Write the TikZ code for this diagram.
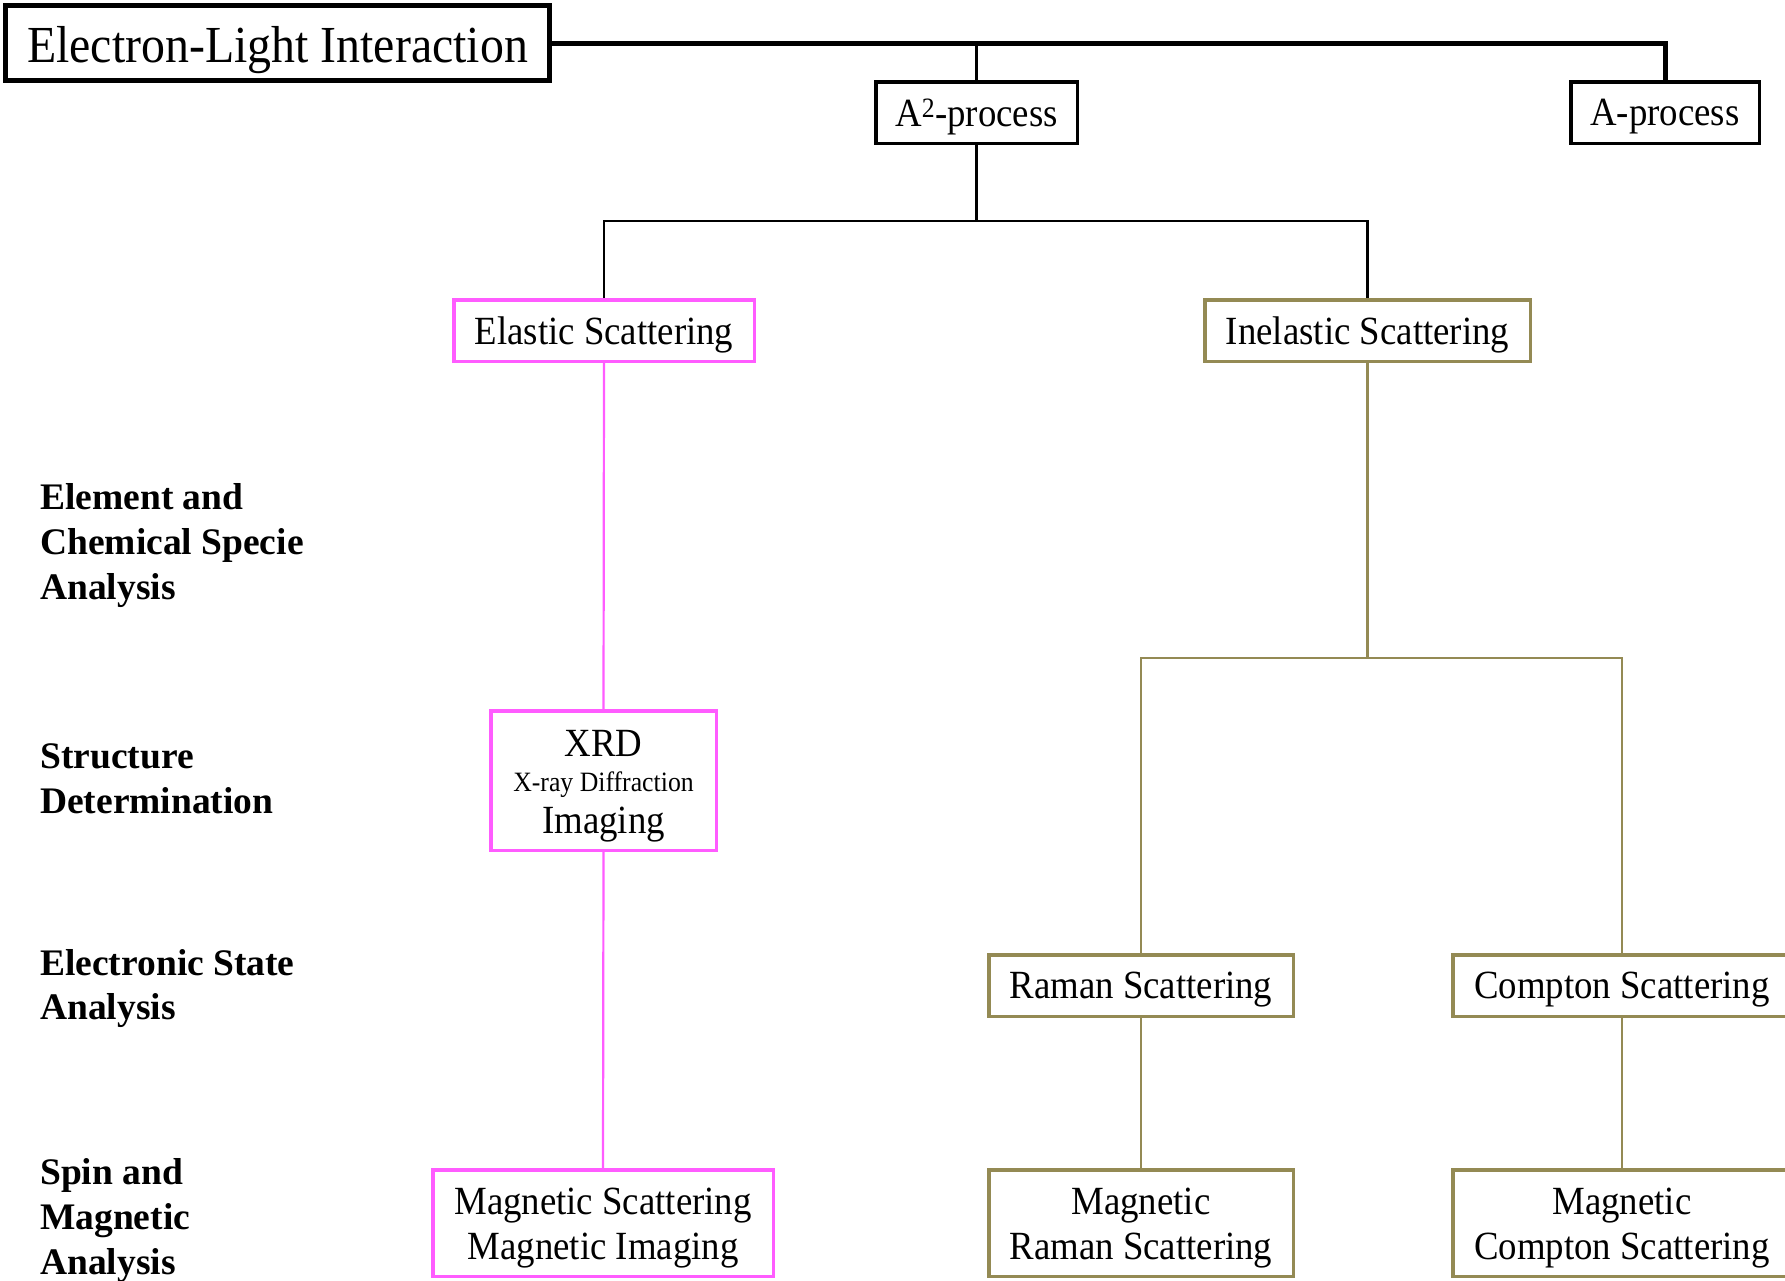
\documentclass[tikz,border=0pt]{standalone}
\usepackage{fontspec}
\setmainfont{Liberation Serif}[FakeStretch=0.92]
\newfontfamily\lbfam{Liberation Serif}
\definecolor{pinkc}{HTML}{FF5CFF}
\definecolor{olivec}{HTML}{948A54}
\newcommand\bxfont{\fontsize{40}{45}\selectfont}
\newcommand\lbfont{\lbfam\fontsize{37.5}{44.6}\selectfont\bfseries}
\newcommand\ttlfont{\fontsize{52}{60}\selectfont}
\newcommand\smfont{\fontsize{28}{32}\selectfont}
\begin{document}
\begin{tikzpicture}[x=1pt,y=-1pt,
  boxbase/.style={draw, rectangle, inner sep=0pt, fill=white},
  blackbox/.style={boxbase, line width=3.5pt},
  pinkbox/.style={boxbase, draw=pinkc, line width=3.5pt},
  olivebox/.style={boxbase, draw=olivec, line width=3.5pt},
  txt/.style={font=\bxfont, inner sep=0pt, align=center},
  lab/.style={anchor=west, align=left, font=\lbfont, inner sep=0pt},
  thinblack/.style={line width=2.2pt},
  thickblack/.style={line width=5pt},
  pinkline/.style={draw=pinkc, line width=2.2pt},
  oliveline/.style={draw=olivec, line width=2.6pt}]
\path[use as bounding box] (0,0) rectangle (1785,1280);
\clip (0,0) rectangle (1785,1280);
\fill[white] (0,0) rectangle (1785,1280);

% boxes
\node[boxbase, line width=5pt, minimum width=544, minimum height=75] (title) at (277.5,43) {};
\node[blackbox, minimum width=201.5, minimum height=61.5] (a2) at (976.5,112.5) {};
\node[blackbox, minimum width=188.5, minimum height=61.5] (a1) at (1665,112.5) {};
\node[pinkbox, minimum width=300.5, minimum height=61.5] (elastic) at (604,330.5) {};
\node[olivebox, minimum width=325.5, minimum height=61.5] (inelastic) at (1367.5,330.5) {};
\node[pinkbox, minimum width=225.5, minimum height=139.5] (xrd) at (603.5,780.5) {};
\node[pinkbox, minimum width=340.5, minimum height=106.5] (magscat) at (603,1223) {};
\node[olivebox, minimum width=304.5, minimum height=61.5] (raman) at (1141,985.5) {};
\node[olivebox, minimum width=338.5, minimum height=61.5] (compton) at (1622,985.5) {};
\node[olivebox, minimum width=304.5, minimum height=106.5] (magraman) at (1141,1223) {};
\node[olivebox, minimum width=338.5, minimum height=106.5] (magcompton) at (1622,1223) {};

% box texts
\node[txt, font=\ttlfont] (titleT) at (277.5,50) {Electron-Light Interaction};
\node[txt] (a2T) at (976.5,117) {A\textsuperscript{2}-process};
\node[txt] (a1T) at (1665,117) {A-process};
\node[txt] (elasticT) at (604,335) {Elastic Scattering};
\node[txt] (inelasticT) at (1367.5,335) {Inelastic Scattering};
\node[txt] (xrdA) at (603.5,743) {XRD};
\node[txt, font=\smfont] (xrdB) at (603.5,784.5) {X-ray Diffraction};
\node[txt] (xrdC) at (603.5,825) {Imaging};
\node[txt] (magscatT) at (603,1228.5) {Magnetic Scattering\\Magnetic Imaging};
\node[txt] (ramanT) at (1141,990) {Raman Scattering};
\node[txt] (comptonT) at (1622,990) {Compton Scattering};
\node[txt] (magramanT) at (1141,1228.5) {Magnetic\\Raman Scattering};
\node[txt] (magcomptonT) at (1622,1228.5) {Magnetic\\Compton Scattering};

% left labels
\node[lab] (l1) at (40,545.5) {Element and\\Chemical Specie\\Analysis};
\node[lab] (l2) at (40,778.5) {Structure\\Determination};
\node[lab] (l3) at (40,988.5) {Electronic State\\Analysis};
\node[lab] (l4) at (40,1220.5) {Spin and\\Magnetic\\Analysis};

% connectors
\draw[thickblack] (title.east) -| (a1.north);
\draw[thinblack, line width=2.8pt] (title.east -| a2.north) -- (a2.north);
\coordinate (j1) at (976.5,221);
\draw[thinblack] (a2.south) -- (j1);
\draw[thinblack] (elastic.north) |- (j1) -| (inelastic.north);
\draw[pinkline] (elastic.south) -- (xrd.north);
\draw[pinkline] (xrd.south) -- (magscat.north);
\coordinate (j2) at (1367.5,658);
\draw[oliveline] (inelastic.south) -- (j2);
\draw[oliveline, line width=2.2pt] (raman.north) |- (j2) -| (compton.north);
\draw[oliveline] (raman.south) -- (magraman.north);
\draw[oliveline] (compton.south) -- (magcompton.north);
\end{tikzpicture}
\end{document}
